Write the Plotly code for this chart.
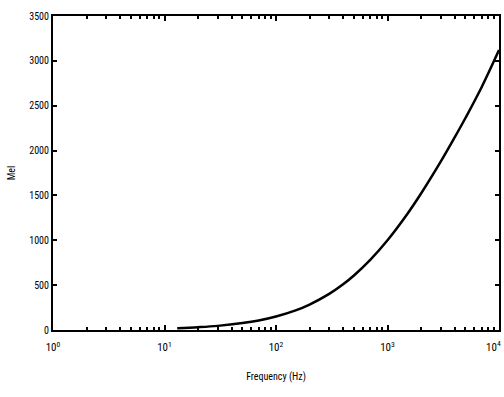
import plotly.graph_objects as go

freq_hz = [13, 20, 30, 50, 70, 100, 150, 200, 300, 400, 500, 700, 1000, 1500, 2000, 3000, 4000, 5000, 7000, 10000]
mel = [20, 31, 46, 77, 106, 150, 218, 283, 402, 509, 607, 781, 1000, 1290, 1521, 1876, 2146, 2363, 2709, 3120]

x_tick_vals = [1, 10, 100, 1000, 10000]
x_tick_text = ["10<sup>0</sup>", "10<sup>1</sup>", "10<sup>2</sup>", "10<sup>3</sup>", "10<sup>4</sup>"]
y_tick_vals = [0, 500, 1000, 1500, 2000, 2500, 3000, 3500]

font_family = "Liberation Sans Narrow, Roboto Condensed, DejaVu Sans Condensed, Liberation Sans, sans-serif"

fig = go.Figure()
fig.add_trace(go.Scatter(x=freq_hz, y=mel, mode="lines",
                         line=dict(color="black", width=2.5, shape="spline")))

fig.update_layout(
    width=504, height=397,
    margin=dict(l=53, r=5, t=16, b=67),
    paper_bgcolor="white", plot_bgcolor="white",
    showlegend=False,
    font=dict(family=font_family, color="black", size=10),
    xaxis=dict(
        type="log", range=[0, 4], automargin=False,
        tickvals=x_tick_vals, ticktext=x_tick_text,
        ticks="inside", ticklen=5, tickwidth=1.5, tickcolor="black",
        ticklabelstandoff=6,
        showline=True, linecolor="black", linewidth=2, mirror="ticks",
        showgrid=False, zeroline=False,
        minor=dict(ticks="inside", ticklen=3, tickcolor="black", dtick="D1", showgrid=False),
        title=dict(text="Frequency (Hz)", font=dict(size=10), standoff=20),
        tickfont=dict(size=11),
    ),
    yaxis=dict(
        range=[0, 3500], automargin=False,
        tickvals=y_tick_vals,
        ticks="inside", ticklen=4, tickwidth=1.5, tickcolor="black",
        showline=True, linecolor="black", linewidth=2, mirror="ticks",
        showgrid=False, zeroline=False,
        title=dict(text="Mel", font=dict(size=10), standoff=12),
        tickfont=dict(size=10),
    ),
)

# last decade label sits at the right edge; anchor it so it stays inside the page
fig.add_annotation(x=4, xref="x", y=0, yref="paper", yanchor="top", xanchor="right",
                   xshift=4, yshift=-7, text=x_tick_text[-1], showarrow=False, font=dict(size=11))

fig.write_html("out.html", config={"displayModeBar": False},
               post_script="document.body.style.margin='0';document.body.style.overflow='hidden';")
